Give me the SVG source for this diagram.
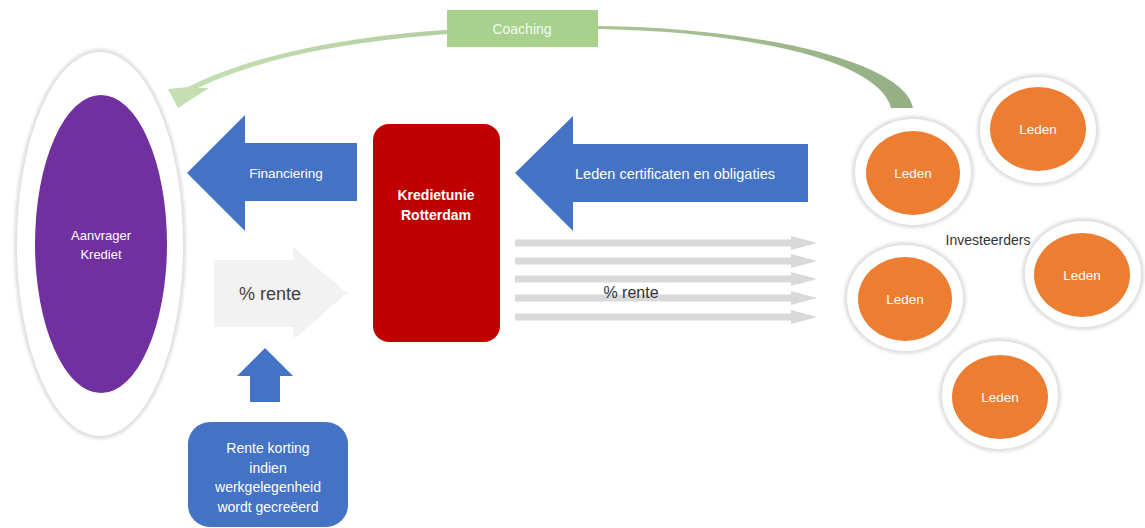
<svg xmlns="http://www.w3.org/2000/svg" width="1145" height="528" viewBox="0 0 1145 528">
<defs>
<style>
.t{font-family:"Liberation Sans",Arial,sans-serif;text-anchor:middle;}
.w{fill:#FFFFFF;}
.blue{fill:#4472C4;}
.org{fill:#ED7D31;}
.thin{fill:#D9D9D9;}
.ring{fill:#E0E0E0;filter:url(#soft);}
.ringin{fill:#FFFFFF;}
</style>
<filter id="soft" x="-20%" y="-20%" width="140%" height="140%"><feGaussianBlur stdDeviation="1.6"/></filter>
<linearGradient id="cg" gradientUnits="userSpaceOnUse" x1="170" y1="0" x2="913" y2="0">
<stop offset="0" stop-color="#C5E0B4"/>
<stop offset="0.45" stop-color="#AFCB9C"/>
<stop offset="1" stop-color="#95AF85"/>
</linearGradient>
<path id="thinArrow" d="M0,-3.5 L276,-3.5 L276,-7 L302,0 L276,7 L276,3.5 L0,3.5 Z"/>
</defs>
<rect width="1145" height="528" fill="#FFFFFF"/>

<g id="connectors">
<path id="coaching-curve" fill="url(#cg)" d="M913,108 C905,62 760,28 600,26 C450,24 290,36 188,87 L168,89 L178,108 L209,88 L198,88 C295,41 450,29 600,29 C755,32 880,62 891,108 Z"/>
<g id="financiering">
<polygon class="blue" points="187,173 245,115 245,143 357,143 357,201 245,201 245,231"/>
<text class="t w" x="286" y="178" font-size="13.5">Financiering</text>
</g>
<g id="leden-certificaten">
<polygon class="blue" points="515,173 573,116 573,144 808,144 808,202 573,202 573,231"/>
<text class="t w" x="675" y="179" font-size="14.5">Leden certificaten en obligaties</text>
</g>
<g id="rente-left">
<polygon fill="#F2F2F2" points="214,260 293,260 293,247 347,293 293,340 293,327 214,327"/>
<text class="t" x="270" y="300" font-size="18" fill="#404040">% rente</text>
</g>
<g id="korting-arrow">
<polygon class="blue" points="265,348 293,376 280,376 280,402 250,402 250,376 237,376"/>
</g>
<g id="rente-right">
<use href="#thinArrow" class="thin" x="515" y="243"/>
<use href="#thinArrow" class="thin" x="515" y="261"/>
<use href="#thinArrow" class="thin" x="515" y="279"/>
<use href="#thinArrow" class="thin" x="515" y="298"/>
<use href="#thinArrow" class="thin" x="515" y="317"/>
<text class="t" x="631" y="298" font-size="16" fill="#333333">% rente</text>
</g>
</g>

<g id="coaching">
<rect x="447" y="10" width="151" height="37" fill="#A9D18E"/>
<text class="t w" x="522" y="34" font-size="14" fill-opacity="0.9">Coaching</text>
</g>

<g id="aanvrager">
<ellipse class="ring" cx="100" cy="244" rx="86" ry="195"/>
<ellipse class="ringin" cx="100" cy="244" rx="83" ry="192"/>
<ellipse cx="101" cy="244" rx="66" ry="149" fill="#7030A0"/>
<text class="t w" x="101" y="240" font-size="13">Aanvrager</text>
<text class="t w" x="101" y="259" font-size="13">Krediet</text>
</g>

<g id="kredietunie">
<rect x="373" y="124" width="127" height="218" rx="16" fill="#C00000"/>
<text class="t w" x="436" y="200" font-size="14" font-weight="bold">Kredietunie</text>
<text class="t w" x="436" y="220" font-size="14" font-weight="bold">Rotterdam</text>
</g>

<g id="rente-korting">
<rect x="188" y="422" width="160" height="105" rx="22" fill="#4472C4"/>
<text class="t w" x="268" y="453" font-size="14">Rente korting</text>
<text class="t w" x="268" y="473" font-size="14">indien</text>
<text class="t w" x="268" y="492" font-size="14">werkgelegenheid</text>
<text class="t w" x="268" y="512" font-size="14">wordt gecreëerd</text>
</g>

<g id="leden-1">
<ellipse class="ring" cx="913" cy="172" rx="61" ry="56"/>
<ellipse class="ringin" cx="913" cy="172" rx="58" ry="53"/>
<ellipse class="org" cx="913" cy="173" rx="47" ry="42"/>
<text class="t w" x="913" y="178" font-size="13.5">Leden</text>
</g>
<g id="leden-2">
<ellipse class="ring" cx="1038" cy="130" rx="61" ry="56"/>
<ellipse class="ringin" cx="1038" cy="130" rx="58" ry="53"/>
<ellipse class="org" cx="1038" cy="129" rx="48" ry="42"/>
<text class="t w" x="1038" y="134" font-size="13.5">Leden</text>
</g>
<g id="leden-3">
<ellipse class="ring" cx="1083" cy="274" rx="61" ry="56"/>
<ellipse class="ringin" cx="1083" cy="274" rx="58" ry="53"/>
<ellipse class="org" cx="1082" cy="275" rx="48" ry="42"/>
<text class="t w" x="1082" y="280" font-size="13.5">Leden</text>
</g>
<g id="leden-4">
<ellipse class="ring" cx="905" cy="298" rx="61" ry="56"/>
<ellipse class="ringin" cx="905" cy="298" rx="58" ry="53"/>
<ellipse class="org" cx="905" cy="299" rx="47" ry="42"/>
<text class="t w" x="905" y="304" font-size="13.5">Leden</text>
</g>
<g id="leden-5">
<ellipse class="ring" cx="1000" cy="395" rx="61" ry="57"/>
<ellipse class="ringin" cx="1000" cy="395" rx="58" ry="54"/>
<ellipse class="org" cx="1000" cy="397" rx="48" ry="42"/>
<text class="t w" x="1000" y="402" font-size="13.5">Leden</text>
</g>

<g id="investeerders">
<text class="t" x="988" y="245" font-size="14" fill="#333333">Investeerders</text>
</g>
</svg>
